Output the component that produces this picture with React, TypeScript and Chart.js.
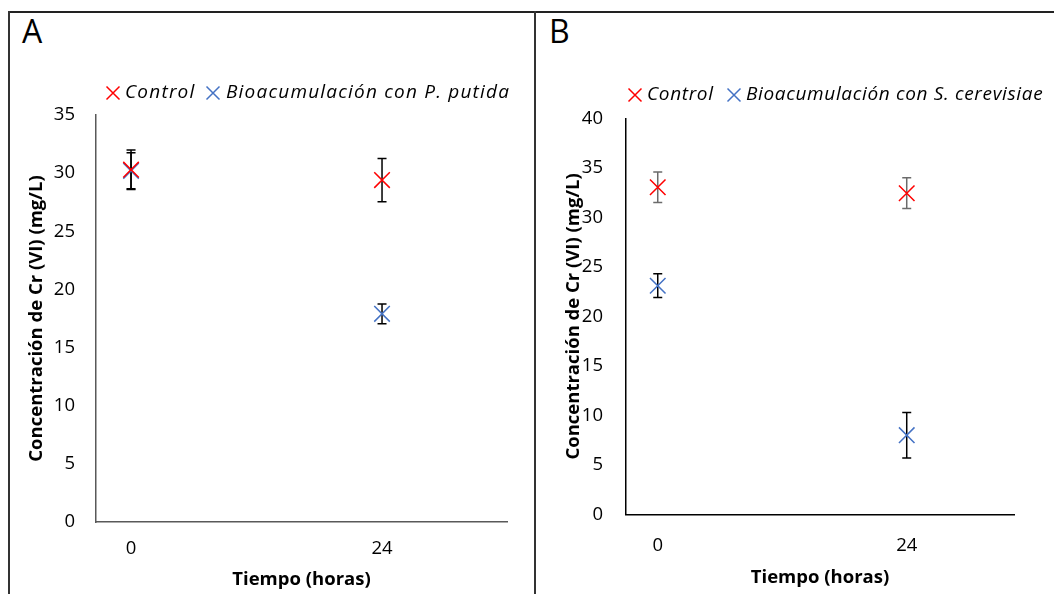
import React, { useEffect, useRef } from "react";
import { Chart, registerables } from "chart.js";

Chart.register(...registerables);

// ---------- data ----------
const categories = [0, 24];
const tickLabelsX = ["0", "24"];

const controlA = [30.3, 29.4];
const controlAErr = [1.7, 1.85];
const bioA = [30.2, 17.9];
const bioAErr = [1.55, 0.85];

const controlB = [33.05, 32.45];
const controlBErr = [1.55, 1.55];
const bioB = [23.1, 8.0];
const bioBErr = [1.2, 2.3];

const yMaxA = 35;
const yMaxB = 40;
const yStep = 5;

const labelControl = "Control";
const labelBioA = "Bioacumulación con P. putida";
const labelBioB = "Bioacumulación con S. cerevisiae";
const yTitle = "Concentración de Cr (VI) (mg/L)";
const xTitle = "Tiempo (horas)";

const FONT = "'Open Sans', sans-serif";
const RED = "#FF0000";
const BLUE = "#4472C4";

// ---------- plugins ----------
const errorBarPlugin = {
  id: "errorBars",
  beforeDatasetsDraw(chart: any) {
    const ctx = chart.ctx;
    const xs = chart.scales.x;
    const ys = chart.scales.y;
    chart.data.datasets.forEach((ds: any) => {
      (ds.errors || []).forEach((e: number, i: number) => {
        const pt = ds.data[i];
        const px = xs.getPixelForValue(pt.x);
        const yt = ys.getPixelForValue(pt.y + e);
        const yb = ys.getPixelForValue(pt.y - e);
        ctx.save();
        ctx.strokeStyle = ds.errorColor;
        ctx.lineWidth = 1.5;
        ctx.beginPath();
        ctx.moveTo(px, yt);
        ctx.lineTo(px, yb);
        ctx.moveTo(px - 4.5, yt);
        ctx.lineTo(px + 4.5, yt);
        ctx.moveTo(px - 4.5, yb);
        ctx.lineTo(px + 4.5, yb);
        ctx.stroke();
        ctx.restore();
      });
    });
  },
};

const customLegendPlugin = {
  id: "customLegend",
  afterDraw(chart: any, _args: any, opts: any) {
    if (!opts || !opts.items) return;
    const ctx = chart.ctx;
    ctx.save();
    ctx.font = `italic ${opts.fontSize}px ${FONT}`;
    ctx.textBaseline = "middle";
    ctx.textAlign = "left";
    (ctx as any).letterSpacing = opts.letterSpacing || "0px";
    chart.data.datasets.forEach((ds: any, i: number) => {
      const it = opts.items[i];
      const r = 6.5;
      ctx.strokeStyle = ds.borderColor;
      ctx.lineWidth = 1.5;
      ctx.beginPath();
      ctx.moveTo(it.cx - r, opts.y - r);
      ctx.lineTo(it.cx + r, opts.y + r);
      ctx.moveTo(it.cx - r, opts.y + r);
      ctx.lineTo(it.cx + r, opts.y - r);
      ctx.stroke();
      ctx.fillStyle = "#000";
      ctx.fillText(ds.label, it.tx, opts.y);
    });
    ctx.restore();
  },
};

// ---------- panel ----------
type PanelProps = {
  left: number;
  top: number;
  width: number;
  height: number;
  xMin: number;
  xMax: number;
  yMax: number;
  yAxisWidth: number;
  xAxisHeight: number;
  padTop: number;
  padRight: number;
  yTickPad: number;
  xTickPad: number;
  yTitlePad: number;
  xTitlePad: number;
  axisColor: string;
  series: { label: string; values: number[]; errors: number[]; color: string; errColor: string }[];
  legendY: number;
  legendSpacing: string;
  legendItems: { cx: number; tx: number }[];
};

function Panel(p: PanelProps) {
  const ref = useRef<HTMLCanvasElement | null>(null);
  useEffect(() => {
    if (!ref.current) return;
    const chart = new Chart(ref.current, {
      type: "scatter",
      data: {
        datasets: p.series.map((s) => ({
          label: s.label,
          data: categories.map((c, i) => ({ x: c, y: s.values[i] })),
          errors: s.errors,
          errorColor: s.errColor,
          borderColor: s.color,
          backgroundColor: s.color,
          pointStyle: "crossRot",
          pointRadius: 11,
          pointBorderWidth: 1.5,
          showLine: false,
        })) as any,
      },
      options: {
        animation: false,
        responsive: false,
        layout: { padding: { top: p.padTop, right: p.padRight, left: 0, bottom: 0 } },
        plugins: {
          legend: { display: false },
          title: { display: false },
          tooltip: { enabled: false },
          customLegend: {
            y: p.legendY,
            fontSize: 19,
            letterSpacing: p.legendSpacing,
            items: p.legendItems,
          },
        } as any,
        scales: {
          x: {
            type: "linear",
            min: p.xMin,
            max: p.xMax,
            afterBuildTicks: (s: any) => {
              s.ticks = categories.map((v) => ({ value: v }));
            },
            afterFit: (s: any) => {
              s.height = p.xAxisHeight;
            },
            ticks: {
              autoSkip: false,
              maxRotation: 0,
              padding: p.xTickPad,
              color: "#000",
              font: { family: FONT, size: 18.5 },
              callback: (v: any) => tickLabelsX[categories.indexOf(Number(v))] ?? "",
            },
            grid: { display: false, drawTicks: false },
            border: { color: p.axisColor, width: 1.5 },
            title: {
              display: true,
              text: xTitle,
              color: "#000",
              font: { family: FONT, size: 18.5, weight: "bold" },
              padding: { top: 0, bottom: p.xTitlePad },
            },
          },
          y: {
            min: 0,
            max: p.yMax,
            afterFit: (s: any) => {
              s.width = p.yAxisWidth;
            },
            ticks: {
              stepSize: yStep,
              padding: p.yTickPad,
              color: "#000",
              font: { family: FONT, size: 18.5 },
            },
            grid: { display: false, drawTicks: false },
            border: { color: p.axisColor, width: 1.5 },
            title: {
              display: true,
              text: yTitle,
              color: "#000",
              font: { family: FONT, size: 18.5, weight: "bold" },
              padding: { top: p.yTitlePad, bottom: 0 },
            },
          },
        },
      } as any,
      plugins: [errorBarPlugin, customLegendPlugin],
    });
    return () => chart.destroy();
  }, []);
  return (
    <canvas
      ref={ref}
      width={p.width}
      height={p.height}
      style={{ position: "absolute", left: p.left, top: p.top, width: p.width, height: p.height }}
    />
  );
}

const letterStyle: React.CSSProperties = {
  position: "absolute",
  fontFamily: FONT,
  fontSize: 32,
  lineHeight: "32px",
  color: "#000",
};

export default function App() {
  return (
    <div style={{ position: "absolute", left: 0, top: 0, width: 1054, height: 594, overflow: "hidden", background: "#fff" }}>
      {/* frame lines */}
      <div style={{ position: "absolute", left: 8, top: 11, width: 1046, height: 2, background: "#222" }} />
      <div style={{ position: "absolute", left: 8, top: 11, width: 2, height: 583, background: "#333" }} />
      <div style={{ position: "absolute", left: 534, top: 11, width: 2, height: 583, background: "#333" }} />

      <div style={{ ...letterStyle, left: 22, top: 15 }}>A</div>
      <div style={{ ...letterStyle, left: 549, top: 15 }}>B</div>

      <Panel
        left={10}
        top={13}
        width={524}
        height={581}
        xMin={-3.35}
        xMax={35.95}
        yMax={yMaxA}
        yAxisWidth={86}
        xAxisHeight={72}
        padTop={102}
        padRight={27}
        yTickPad={21}
        xTickPad={16}
        yTitlePad={16}
        xTitlePad={3}
        axisColor="#595959"
        series={[
          { label: labelControl, values: controlA, errors: controlAErr, color: RED, errColor: "#000" },
          { label: labelBioA, values: bioA, errors: bioAErr, color: BLUE, errColor: "#000" },
        ]}
        legendY={80}
        legendSpacing="1.2px"
        legendItems={[
          { cx: 103, tx: 115 },
          { cx: 203, tx: 216 },
        ]}
      />
      <Panel
        left={536}
        top={13}
        width={518}
        height={581}
        xMin={-3.06}
        xMax={34.34}
        yMax={yMaxB}
        yAxisWidth={90}
        xAxisHeight={79.7}
        padTop={105.5}
        padRight={40}
        yTickPad={23}
        xTickPad={20}
        yTitlePad={27}
        xTitlePad={5}
        axisColor="#000"
        series={[
          { label: labelControl, values: controlB, errors: controlBErr, color: RED, errColor: "#6b6b6b" },
          { label: labelBioB, values: bioB, errors: bioBErr, color: BLUE, errColor: "#000" },
        ]}
        legendY={82}
        legendSpacing="0.65px"
        legendItems={[
          { cx: 99, tx: 111 },
          { cx: 198, tx: 210 },
        ]}
      />
    </div>
  );
}
